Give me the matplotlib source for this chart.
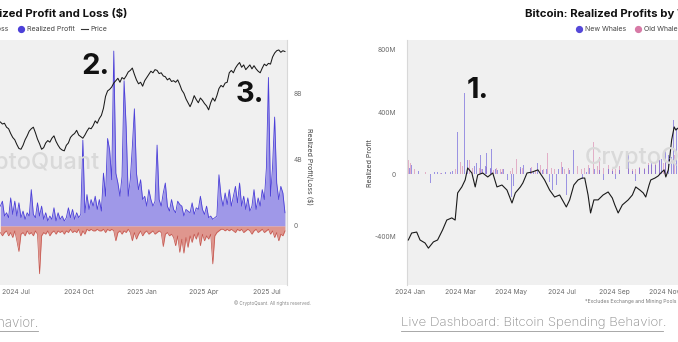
import numpy as np
import pandas as pd
import matplotlib
matplotlib.use('Agg')
import matplotlib.pyplot as plt
from matplotlib.lines import Line2D

plt.rcParams['font.family'] = ['Inter', 'DejaVu Sans']

W, H = 678, 342

# ---------------- left panel data (3-day steps from 2024-06-09) ----------------
pl_start = '2024-06-09'
pl_profit = [1.2,1.5,0.6,0.8,0.5,1.7,0.7,1.5,0.6,1.4,
             0.5,0.9,0.4,0.8,0.6,2.2,0.7,0.5,1.4,0.6,
             1.2,0.4,0.8,0.3,0.6,0.4,1.1,0.3,0.8,0.4,
             0.6,0.3,0.5,1.1,0.5,1.0,0.4,0.8,0.5,0.7,
             5.2,0.8,1.9,1.0,1.6,1.2,1.8,1.0,1.6,0.9,
             3.2,1.8,5.3,4.6,2.8,10.6,3.2,2.6,1.8,3.0,
             8.8,6.0,1.8,2.8,4.8,7.1,3.2,2.2,2.8,1.6,
             1.8,1.2,2.2,1.6,1.2,1.5,4.9,1.6,1.2,2.0,
             2.6,1.2,0.9,1.6,1.0,0.8,1.5,1.3,1.2,0.6,
             1.0,0.9,0.8,1.4,0.7,1.1,1.0,1.8,1.0,0.7,
             1.2,0.5,0.6,0.4,0.5,0.6,3.1,1.8,1.2,2.0,
             1.3,2.2,1.2,1.8,2.4,1.4,2.6,1.2,1.8,1.0,
             1.7,0.9,1.2,2.2,1.0,1.7,1.2,2.2,1.6,3.5,
             9.0,1.8,3.6,6.6,2.6,1.6,2.4,2.0,0.8]
pl_loss = [0.4,0.6,0.4,0.3,0.6,0.4,0.7,0.3,0.9,1.55,
           0.5,0.4,0.6,0.3,0.5,0.4,0.6,0.3,0.5,2.9,
           0.6,0.4,0.5,0.3,0.6,0.4,0.3,0.5,0.3,0.4,
           0.3,0.5,0.3,0.4,0.2,0.4,0.3,0.4,0.2,0.6,
           0.3,0.5,0.2,0.3,0.2,0.3,0.3,0.2,0.3,0.3,
           0.2,0.4,0.2,0.3,0.2,0.3,0.9,0.4,0.3,0.5,
           0.3,0.4,0.2,0.4,0.9,0.4,0.8,0.5,0.3,0.6,
           0.4,0.3,0.5,0.4,0.3,0.5,0.4,0.3,0.4,1.25,
           0.5,0.4,0.6,0.5,0.7,1.2,0.6,1.6,0.8,1.65,
           0.7,1.3,0.6,1.0,0.5,0.8,0.4,1.2,0.5,0.9,
           0.6,0.8,0.5,2.3,0.6,0.4,0.3,0.2,0.2,0.3,
           0.2,0.3,0.2,0.3,0.4,0.2,0.3,0.2,0.4,0.3,
           0.2,0.3,0.5,0.3,0.2,0.4,0.3,0.2,0.4,0.3,
           0.2,0.5,0.3,0.7,0.4,0.9,0.5,0.6,0.3]
pl_price = [71.8,70.5,71.0,68.5,67.5,64.5,62.0,60.5,57.5,55.0,
            54.5,57.0,60.5,63.0,66.0,67.5,68.5,65.0,61.0,58.0,
            54.5,55.5,58.5,60.0,59.0,61.5,63.0,59.5,57.0,55.0,
            54.0,53.5,57.0,58.5,62.0,63.5,64.5,66.5,63.5,62.5,
            61.5,63.5,66.0,68.0,67.5,69.5,72.5,71.0,74.0,76.0,
            80.5,88.0,91.5,92.5,94.0,96.5,98.0,99.5,97.0,100.0,
            99.0,101.0,103.5,104.5,106.0,102.0,98.5,96.0,97.0,94.5,
            98.0,100.0,102.0,104.0,103.0,105.0,104.5,102.5,103.0,101.0,
            100.5,98.5,99.5,97.5,98.0,97.0,98.5,95.5,92.0,90.0,
            86.5,84.0,81.5,84.5,88.5,86.0,84.0,87.0,85.5,83.5,
            82.0,79.5,84.0,87.0,85.0,88.5,93.0,95.0,94.0,96.5,
            97.0,103.0,104.5,103.0,106.0,108.0,109.5,106.5,108.0,105.0,
            106.5,108.0,105.5,107.5,105.5,104.0,103.0,106.0,108.5,107.5,
            109.0,108.5,113.0,115.5,117.0,117.5,116.0,117.0,116.5]

left_xticks = ['2024-07-01', '2024-10-01', '2025-01-01', '2025-04-01', '2025-07-01']
left_xlabels = ['2024 Jul', '2024 Oct', '2025 Jan', '2025 Apr', '2025 Jul']
left_yticks = [0, 4, 8]
left_ylabels = ['0', '4B', '8B']

# ---------------- right panel data (days from 2024-01-01, millions USD) ----------------
rp_origin = '2024-01-01'
nw_days = [-1,2,6,10,12,24,29,33,38,43, 48,51,55,57,61,65,67,69,73,77,
           80,84,87,90,92,96,98,102,105,109, 112,117,121,124,128,132,136,140,144,148,
           153,158,163,167,171,175,178,182,187,191, 196,201,206,211,215,221,227,232,237,242,
           246,251,256,261,266,270,275,280,285,289, 294,298,301,306,309,311,313,315,317,319]
nw_vals = [40,55,58,20,15,-60,10,12,8,15, 10,18,25,273,60,520,155,90,172,50,
           70,123,30,50,133,40,160,30,25,10, 35,-40,-146,-80,30,45,60,240,40,20,
           70,25,30,-50,-103,-70,30,45,-135,25, 155,20,-30,15,40,30,25,-40,30,20,
           -30,25,45,133,20,-45,40,35,60,70, 55,90,100,155,120,187,110,350,400,300]
ow_days = [-2,1,5,18,36,54,60,63,67,71, 73,75,79,83,86,91,96,100,104,108,
           111,116,120,123,127,132,135,140,145,150, 156,160,164,169,173,177,181,185,190,195,
           200,205,209,214,219,224,227,232,237,242, 246,251,256,261,266,270,275,280,285,289,
           294,299,303,306,311,316]
ow_vals = [90,70,30,10,8,30,80,50,60,90, 150,40,30,40,30,45,35,25,40,30,
           35,100,20,40,100,30,40,30,45,25, 60,30,133,40,30,25,80,30,40,30,
           50,35,40,60,209,50,110,40,60,35, 30,50,30,40,35,30,45,40,70,60,
           80,90,70,100,80,120]
rp_price_days = [-2,2,8,12,18,22,28,33,39,44, 50,54,57,62,66,69,74,78,81,87,
                 93,99,104,110,116,122,126,132,135,140, 146,153,
                 161,167,173,179,187,191,196,201,206,209, 213,216,220,225,231,237,242,245,249,254,
                 261,266,270,275,279,282,286,288,293,297, 300,304,306,309,311,313,316,318,321]
rp_price_vals = [42.0,44.9,45.3,42.0,40.75,38.6,41.2,42.0,46.2,50.3,
                 51.2,50.3,61.6,64.1,67.0,72.0,69.9,64.1,69.1,69.9,
                 68.25,69.9,64.1,64.9,62.8,57.4,61.6,64.1,65.75,69.9, 70.3,71.2,
                 67.0,62.8,59.9,60.75,55.75,58.7,64.9,67.0,67.8,67.8,
                 60.75,53.25,58.7,58.7,60.75,62.0,59.5,56.6,53.25,56.6,
                 58.7,60.75,64.1,62.8,61.6,59.9,64.9,67.0,67.8,68.7,
                 69.9,71.2,68.25,71.2,77.4,83.7,89.1,87.8,88.7]

right_xticks = ['2024-01-01', '2024-03-01', '2024-05-01', '2024-07-01', '2024-09-01', '2024-11-01']
right_xlabels = ['2024 Jan', '2024 Mar', '2024 May', '2024 Jul', '2024 Sep', '2024 Nov']
right_yticks = [-400, 0, 400, 800]
right_ylabels = ['-400M', '0', '400M', '800M']

# ---------------- colours ----------------
BG = '#f0f0f0'
PROFIT_FILL = '#968fe8'
PROFIT_LINE = '#4c40d8'
LOSS_FILL = '#de8c84'
LOSS_LINE = '#c4554d'
NEW_C = '#5548d8'
OLD_C = '#d77aa6'
TICK_C = '#6a6a6a'


def fx(px):
    return px / W


def fy(py):
    return 1 - py / H


fig = plt.figure(figsize=(W / 100, H / 100), dpi=100)
fig.patch.set_facecolor('white')

# ================= LEFT PANEL =================
axL = fig.add_axes([0, fy(285), fx(287), (285 - 40) / H])
axL.set_facecolor(BG)
axLp = axL.twinx()

pl_dates = pd.date_range(pl_start, periods=len(pl_profit), freq='3D')
prof = np.array(pl_profit)
loss = -np.array(pl_loss)
axL.fill_between(pl_dates, 0, prof, color=PROFIT_FILL, lw=0, alpha=0.9)
axL.plot(pl_dates, prof, color=PROFIT_LINE, lw=0.6)
axL.fill_between(pl_dates, 0, loss, color=LOSS_FILL, lw=0, alpha=0.9)
axL.plot(pl_dates, loss, color=LOSS_LINE, lw=0.5)
axL.set_xlim(pd.Timestamp('2024-06-08 12:00'), pd.Timestamp('2025-07-31'))
axL.set_ylim(-3.58, 11.27)
axL.set_xticks([pd.Timestamp(t) for t in left_xticks])
axL.set_xticklabels(left_xlabels)
axL.set_yticks([])
for s in axL.spines.values():
    s.set_visible(False)

axLp.plot(pl_dates, pl_price, color='#1a1a1a', lw=0.75)
axLp.set_ylim(-31.6, 123.8)
# profit axis labels shown on the right (twin axis placed in the profit scale)
axLp.set_yticks([(v + 3.58) / (11.27 + 3.58) * (123.8 + 31.6) - 31.6 for v in left_yticks])
axLp.set_yticklabels(left_ylabels)
axLp.tick_params(length=0, labelsize=4.8, colors=TICK_C, pad=5)
axL.tick_params(length=0, labelsize=4.8, colors=TICK_C, pad=3)
for s in ['top', 'left', 'bottom']:
    axLp.spines[s].set_visible(False)
axLp.spines['right'].set_color('#d8d8d8')
axLp.spines['right'].set_linewidth(0.8)

# watermark left
fig.text(fx(100), fy(163), 'CryptoQuant', ha='right', va='center', fontsize=17,
         color='#d9d9d9', fontweight='medium', zorder=0.5)

# annotations
fig.text(fx(81), fy(66), '2.', ha='left', va='center', fontsize=21, fontweight='bold', color='#111111')
fig.text(fx(236), fy(94), '3.', ha='left', va='center', fontsize=21, fontweight='bold', color='#111111')

# y label left panel (right side)
fig.text(fx(309), fy(167), 'Realized Profit/Loss ($)', rotation=270, ha='center', va='center',
         fontsize=5, color='#444444')

# title & legend left
fig.text(fx(127), fy(14), 'Bitcoin: Realized Profit and Loss ($)', ha='right', va='center',
         fontsize=8.2, fontweight='bold', color='#111111')
fig.text(fx(8), fy(29), 'Realized Loss', ha='right', va='center', fontsize=5, color='#444444')
fig.lines.append(Line2D([fx(21)], [fy(29)], marker='o', ms=4.2, color=PROFIT_LINE,
                        transform=fig.transFigure, lw=0))
fig.text(fx(27), fy(29), 'Realized Profit', ha='left', va='center', fontsize=5, color='#444444')
fig.lines.append(Line2D([fx(81), fx(88)], [fy(29), fy(29)], color='#333333', lw=0.8,
                        transform=fig.transFigure))
fig.text(fx(90), fy(29), 'Price', ha='left', va='center', fontsize=5, color='#444444')

fig.text(fx(311), fy(303), '\u00a9 CryptoQuant. All rights reserved.', ha='right', va='center',
         fontsize=3.3, color='#888888')

# bottom link left
fig.text(fx(38), fy(323), 'Bitcoin Spending Behavior.', ha='right', va='center',
         fontsize=9.6, color='#8c8c8c', fontweight='light')
fig.lines.append(Line2D([fx(-5), fx(38)], [fy(331), fy(331)], color='#9a9a9a', lw=0.6,
                        transform=fig.transFigure))

# ================= RIGHT PANEL =================
axR = fig.add_axes([fx(407), fy(285), 1 - fx(407), (285 - 40) / H])
axR.set_facecolor(BG)
axRp = axR.twinx()

origin = pd.Timestamp(rp_origin)
ow_dates = [origin + pd.Timedelta(days=d) for d in ow_days]
nw_dates = [origin + pd.Timedelta(days=d) for d in nw_days]
axR.bar(ow_dates, ow_vals, width=1.1, color=OLD_C, alpha=0.55, lw=0)
axR.bar(nw_dates, nw_vals, width=1.1, color=NEW_C, alpha=0.55, lw=0)
axR.set_xlim(pd.Timestamp('2023-12-28 10:00'), pd.Timestamp('2024-11-16 14:00'))
axR.set_ylim(-716, 864.5)
axR.yaxis.tick_left()
axR.set_yticks(right_yticks)
axR.set_yticklabels(right_ylabels)
axR.set_xticks([pd.Timestamp(t) for t in right_xticks])
axR.set_xticklabels(right_xlabels)
axR.tick_params(length=0, labelsize=4.8, colors=TICK_C, pad=3)
axR.tick_params(axis='y', pad=8)
for s in ['top', 'right', 'bottom']:
    axR.spines[s].set_visible(False)
axR.spines['left'].set_color('#d8d8d8')
axR.spines['left'].set_linewidth(0.8)

rp_dates = [origin + pd.Timedelta(days=d) for d in rp_price_days]
axRp.plot(rp_dates, rp_price_vals, color='#1a1a1a', lw=0.8)
axRp.set_ylim(23.25, 125.3)
axRp.set_yticks([])
for s in axRp.spines.values():
    s.set_visible(False)

fig.text(fx(585), fy(158), 'CryptoQuant', ha='left', va='center', fontsize=17,
         color='#d9d9d9', fontweight='medium', zorder=0.5)
fig.text(fx(467), fy(91), '1.', ha='left', va='center', fontsize=21, fontweight='bold', color='#111111')

fig.text(fx(370), fy(163), 'Realized Profit', rotation=90, ha='center', va='center',
         fontsize=5, color='#444444')

fig.text(fx(525), fy(14), 'Bitcoin: Realized Profits by Whales', ha='left', va='center',
         fontsize=8.2, fontweight='bold', color='#111111')
fig.lines.append(Line2D([fx(579)], [fy(29)], marker='o', ms=4.2, color=NEW_C,
                        transform=fig.transFigure, lw=0))
fig.text(fx(585), fy(29), 'New Whales', ha='left', va='center', fontsize=5, color='#444444')
fig.lines.append(Line2D([fx(638)], [fy(29)], marker='o', ms=4.2, color=OLD_C,
                        transform=fig.transFigure, lw=0))
fig.text(fx(644), fy(29), 'Old Whales', ha='left', va='center', fontsize=5, color='#444444')

fig.text(fx(585), fy(302), '*Excludes Exchange and Mining Pools', ha='left', va='center',
         fontsize=3.6, color='#777777')

fig.text(fx(401), fy(323), 'Live Dashboard: Bitcoin Spending Behavior.', ha='left', va='center',
         fontsize=9.5, color='#8c8c8c', fontweight='light')
fig.lines.append(Line2D([fx(401), fx(663)], [fy(331), fy(331)], color='#9a9a9a', lw=0.6,
                        transform=fig.transFigure))

fig.savefig('out.png', dpi=100, facecolor='white')
